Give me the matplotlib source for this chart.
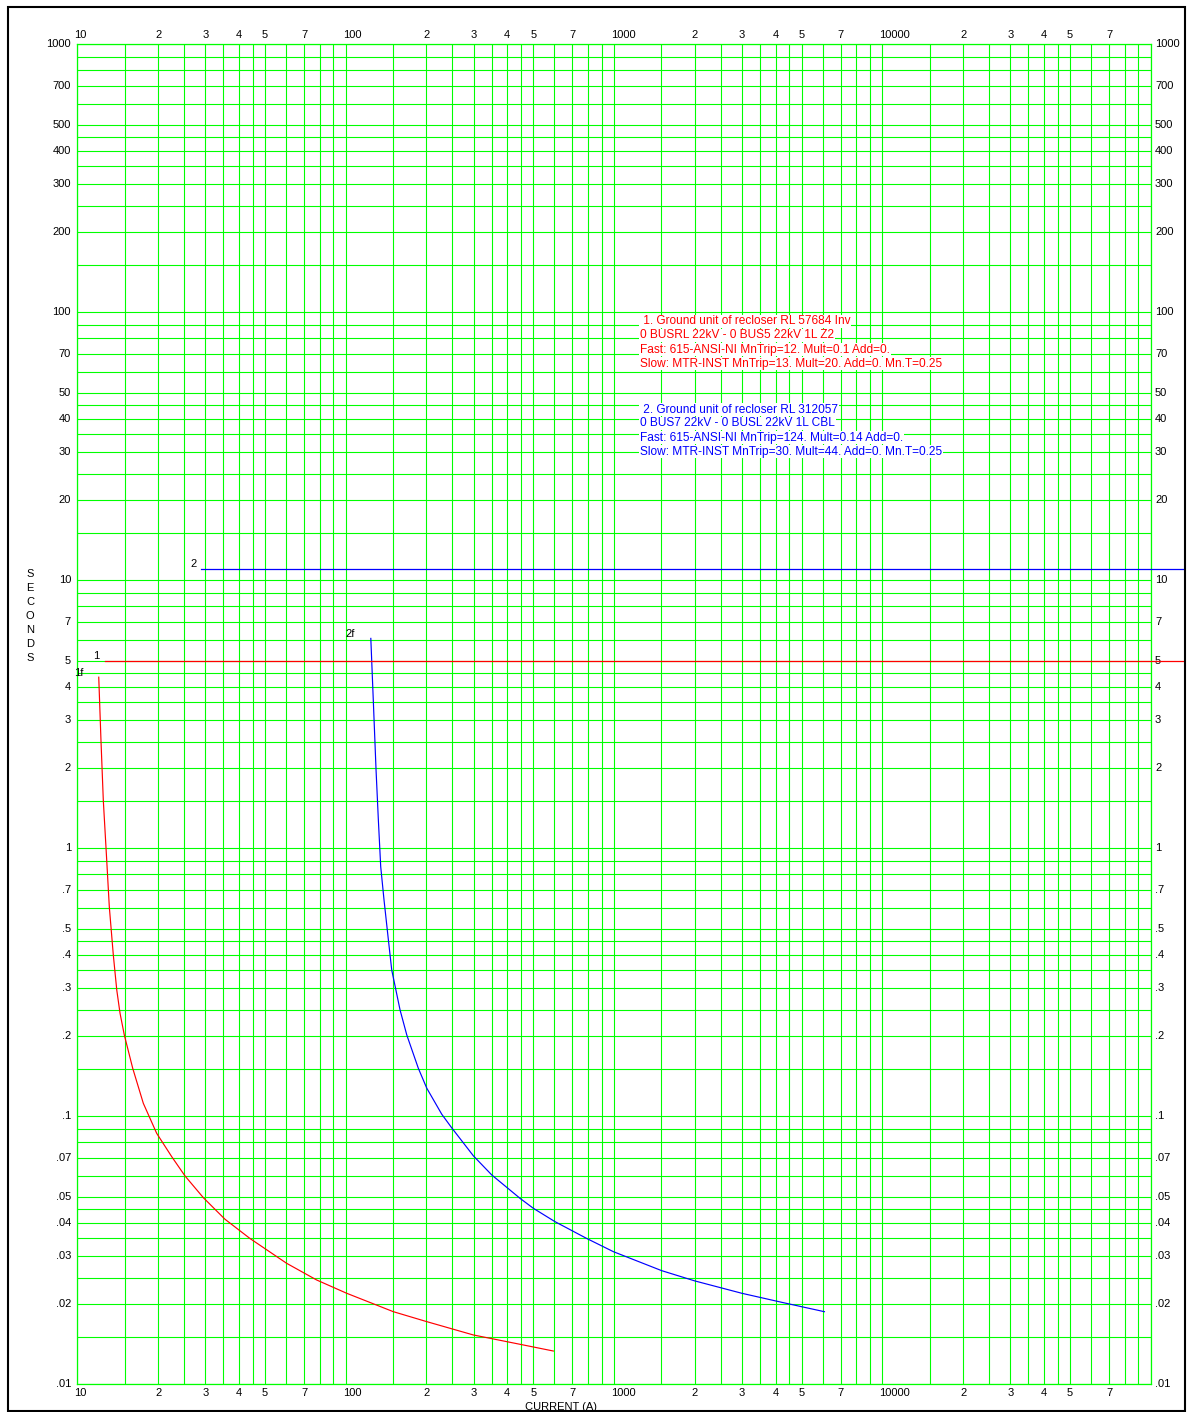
import matplotlib
matplotlib.use("Agg")
import matplotlib.pyplot as plt
from matplotlib.patches import Rectangle
from matplotlib.transforms import offset_copy, blended_transform_factory

plt.rcParams['font.family'] = ['Liberation Sans', 'DejaVu Sans']

# ---- data -------------------------------------------------------------
# Fast (inverse-time) curve of device 1
red_fast_current = [12.02, 12.25, 12.5, 12.87, 13.16, 13.62, 14.03, 14.43, 14.97,
                    16.09, 17.62, 19.76, 22.48, 25.2, 29.49, 35.5, 44.0, 60.3,
                    78.0, 100.9, 150.6, 200.6, 299.0, 446.7, 594.3]
red_fast_time = [4.35, 2.54, 1.51, 0.904, 0.605, 0.40, 0.296, 0.2423, 0.201,
                 0.151, 0.1118, 0.0864, 0.0707, 0.0599, 0.0497, 0.0413, 0.035, 0.02827,
                 0.0245, 0.02186, 0.01866, 0.01713, 0.01528, 0.0141, 0.01331]

# Fast (inverse-time) curve of device 2
blue_fast_current = [124.1, 126.9, 129.8, 132.4, 135.1, 139.0, 144.3, 148.5, 159.5,
                     169.0, 186.6, 200.6, 228.1, 248.6, 299.2, 350.4, 446.7, 500.6,
                     603.1, 791.6, 994.9, 1507, 2006, 2994, 4279, 6083]
blue_fast_time = [6.07, 3.475, 1.96, 1.275, 0.854, 0.641, 0.455, 0.3515, 0.2493,
                  0.201, 0.151, 0.1273, 0.1018, 0.0905, 0.0712, 0.0604, 0.0494, 0.04536,
                  0.04043, 0.035, 0.03125, 0.02654, 0.02429, 0.02186, 0.02016, 0.01866]

# Slow (definite-time) characteristics
red_slow_current = [12.7, 132000]
red_slow_time = [5.0, 5.0]
blue_slow_current = [28.9, 132000]
blue_slow_time = [11.0, 11.0]

grid_mults = [1, 1.5, 2, 2.5, 3, 3.5, 4, 4.5, 5, 6, 7, 8, 9]
x_label_vals = [10, 20, 30, 40, 50, 70, 100, 200, 300, 400, 500, 700,
                1000, 2000, 3000, 4000, 5000, 7000,
                10000, 20000, 30000, 40000, 50000, 70000]
x_label_txt = ['10', '2', '3', '4', '5', '7', '100', '2', '3', '4', '5', '7',
               '1000', '2', '3', '4', '5', '7',
               '10000', '2', '3', '4', '5', '7']
y_label_vals = [1000, 700, 500, 400, 300, 200, 100, 70, 50, 40, 30, 20,
                10, 7, 5, 4, 3, 2, 1, .7, .5, .4, .3, .2, .1, .07, .05, .04,
                .03, .02, .01]
y_label_txt = ['1000', '700', '500', '400', '300', '200', '100', '70', '50', '40',
               '30', '20', '10', '7', '5', '4', '3', '2', '1', '.7', '.5', '.4',
               '.3', '.2', '.1', '.07', '.05', '.04', '.03', '.02', '.01']

red_info = [" 1. Ground unit of recloser RL 57684 Inv",
            "0 BUSRL 22kV - 0 BUS5 22kV 1L Z2",
            "Fast: 615-ANSI-NI MnTrip=12. Mult=0.1 Add=0.",
            "Slow: MTR-INST MnTrip=13. Mult=20. Add=0. Mn.T=0.25"]
blue_info = [" 2. Ground unit of recloser RL 312057",
             "0 BUS7 22kV - 0 BUSL 22kV 1L CBL",
             "Fast: 615-ANSI-NI MnTrip=124. Mult=0.14 Add=0.",
             "Slow: MTR-INST MnTrip=30. Mult=44. Add=0. Mn.T=0.25"]

# ---- figure -------------------------------------------------------------
W, H = 1188, 1412
fig = plt.figure(figsize=(W / 100, H / 100), dpi=100)
fig.patch.set_facecolor('white')


def fx(px):
    return px / W


def fy(py):
    return 1 - py / H


L, R, T, B = 77.3, 1150.7, 44.3, 1384.3
ax = fig.add_axes([fx(L), fy(B), fx(R) - fx(L), fy(T) - fy(B)])
ax.set_xscale('log')
ax.set_yscale('log')
ax.set_xlim(10, 100000)
ax.set_ylim(0.01, 1000)

GREEN = '#00ff00'
xgrid = [m * 10 ** k for k in range(1, 5) for m in grid_mults] + [100000]
ygrid = [m * 10 ** k for k in range(-2, 3) for m in grid_mults] + [1000]
ax.set_xticks(xgrid)
ax.set_yticks(ygrid)
ax.set_xticks([], minor=True)
ax.set_yticks([], minor=True)
ax.grid(True, which='major', color=GREEN, lw=0.8)
ax.tick_params(which='both', length=0, labelbottom=False, labelleft=False)
for s in ax.spines.values():
    s.set_color(GREEN)
    s.set_linewidth(0.9)

# curves
ax.plot(red_fast_current, red_fast_time, color='#ff0000', lw=0.85, zorder=5)
ax.plot(blue_fast_current, blue_fast_time, color='#0000ff', lw=0.85, zorder=5)
ax.plot(red_slow_current, red_slow_time, color='#ff0000', lw=0.9, zorder=5,
        clip_on=False, snap=True)
ax.plot(blue_slow_current, blue_slow_time, color='#0000ff', lw=0.9, zorder=5,
        clip_on=False, snap=True)

FS = 8
# x tick labels, top and bottom
tx = blended_transform_factory(ax.transData, fig.transFigure)
tx = offset_copy(tx, fig=fig, x=-3, y=0, units='dots')
for v, t in zip(x_label_vals, x_label_txt):
    ax.text(v, fy(35), t, transform=tx, ha='left', va='center', fontsize=FS)
    ax.text(v, fy(1393), t, transform=tx, ha='left', va='center', fontsize=FS)

# y tick labels, left and right
ty = blended_transform_factory(fig.transFigure, ax.transData)
for v, t in zip(y_label_vals, y_label_txt):
    ax.text(fx(71), v, t, transform=ty, ha='right', va='center', fontsize=FS)
    ax.text(fx(1155), v, t, transform=ty, ha='left', va='center', fontsize=FS)

fig.text(fx(561), fy(1406.5), "CURRENT (A)", ha='center', va='center', fontsize=FS)
for i, ch in enumerate("SECONDS"):
    fig.text(fx(30), fy(574 + 14 * i), ch, ha='center', va='center', fontsize=FS)

# curve tags
fig.text(fx(96.7), fy(656), "1", ha='center', va='center', fontsize=FS)
fig.text(fx(193.7), fy(564), "2", ha='center', va='center', fontsize=FS)
fig.text(fx(78.3), fy(673.5), "1f", ha='center', va='center', fontsize=FS)
fig.text(fx(350), fy(634), "2f", ha='center', va='center', fontsize=FS)

# device information blocks
box = dict(facecolor='white', edgecolor='none', pad=0.6)
for i, line in enumerate(red_info):
    fig.text(fx(640), fy(321.5 + 14 * i), line, color='#ff0000', ha='left',
             va='center', fontsize=8.6, bbox=box, zorder=6)
for i, line in enumerate(blue_info):
    fig.text(fx(640), fy(409.5 + 14 * i), line, color='#0000ff', ha='left',
             va='center', fontsize=8.6, bbox=box, zorder=6)

# page frame
fig.add_artist(Rectangle((fx(8), fy(1411)), fx(1185) - fx(8), fy(7) - fy(1411),
                         transform=fig.transFigure, fill=False, edgecolor='black',
                         lw=1.5))

fig.savefig('out.png', dpi=100, facecolor='white')
